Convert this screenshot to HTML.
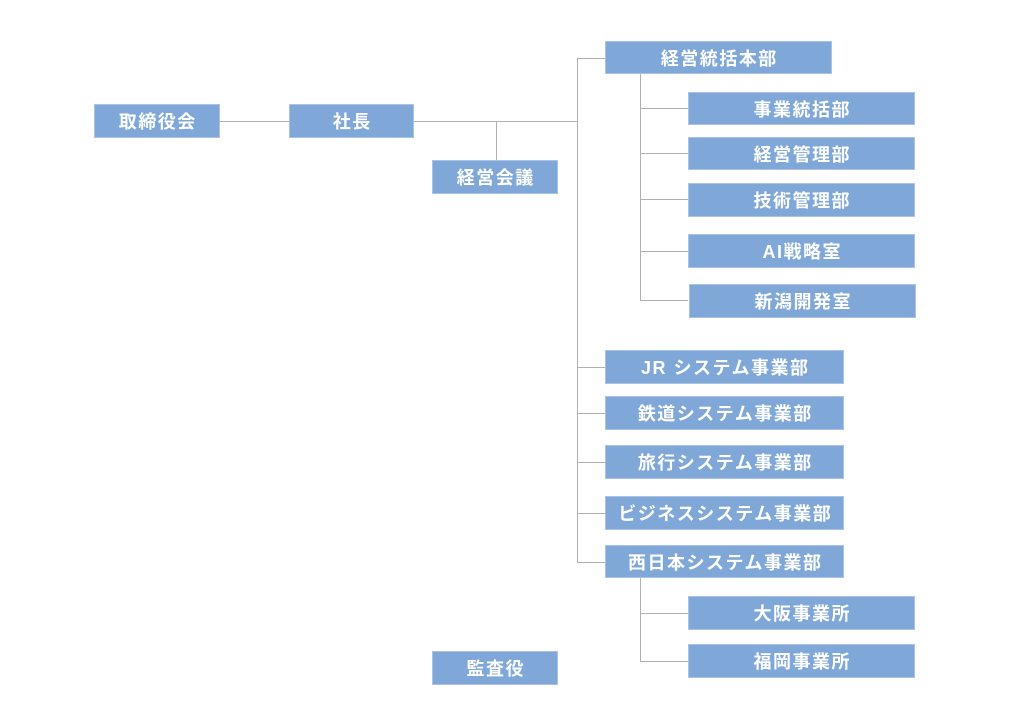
<!DOCTYPE html>
<html><head><meta charset="utf-8"><style>
body{margin:0;width:1024px;height:706px;background:#fff;position:relative;overflow:hidden;font-family:"Liberation Sans","Noto Sans CJK JP",sans-serif}
.b{position:absolute;background:#7fa7d8;color:#fff;font-weight:bold;font-size:18px;letter-spacing:1.5px;display:flex;align-items:center;justify-content:center;border:1px solid #a9c3e6;box-sizing:border-box;padding-left:1.5px}
.h,.v{position:absolute;background:#b0b0b0}
.h{height:1px}.v{width:1px}
</style></head><body>
<div class="h" style="left:220px;top:121px;width:69px"></div>
<div class="h" style="left:414px;top:121px;width:163px"></div>
<div class="v" style="left:496px;top:121px;height:39px"></div>
<div class="v" style="left:577px;top:58px;height:505px"></div>
<div class="h" style="left:577px;top:58px;width:28px"></div>
<div class="v" style="left:640px;top:74px;height:227px"></div>
<div class="h" style="left:640px;top:108px;width:48px"></div>
<div class="h" style="left:640px;top:153px;width:48px"></div>
<div class="h" style="left:640px;top:199px;width:48px"></div>
<div class="h" style="left:640px;top:251px;width:48px"></div>
<div class="h" style="left:640px;top:300px;width:48px"></div>
<div class="h" style="left:577px;top:367px;width:28px"></div>
<div class="h" style="left:577px;top:413px;width:28px"></div>
<div class="h" style="left:577px;top:462px;width:28px"></div>
<div class="h" style="left:577px;top:513px;width:28px"></div>
<div class="h" style="left:577px;top:562px;width:28px"></div>
<div class="v" style="left:640px;top:578px;height:84px"></div>
<div class="h" style="left:640px;top:613px;width:48px"></div>
<div class="h" style="left:640px;top:661px;width:48px"></div>

<div class="b" style="left:94px;top:104px;width:126px;height:34px">取締役会</div>
<div class="b" style="left:289px;top:104px;width:125px;height:34px">社長</div>
<div class="b" style="left:432px;top:160px;width:126px;height:34px">経営会議</div>
<div class="b" style="left:605px;top:41px;width:227px;height:33px">経営統括本部</div>
<div class="b" style="left:688px;top:92px;width:227px;height:33px">事業統括部</div>
<div class="b" style="left:688px;top:137px;width:227px;height:33px">経営管理部</div>
<div class="b" style="left:688px;top:183px;width:227px;height:34px">技術管理部</div>
<div class="b" style="left:688px;top:234px;width:227px;height:34px">AI戦略室</div>
<div class="b" style="left:689px;top:284px;width:227px;height:34px">新潟開発室</div>
<div class="b" style="left:605px;top:350px;width:239px;height:34px">JR システム事業部</div>
<div class="b" style="left:605px;top:396px;width:239px;height:34px">鉄道システム事業部</div>
<div class="b" style="left:605px;top:445px;width:239px;height:34px">旅行システム事業部</div>
<div class="b" style="left:605px;top:496px;width:239px;height:34px">ビジネスシステム事業部</div>
<div class="b" style="left:605px;top:545px;width:239px;height:33px">西日本システム事業部</div>
<div class="b" style="left:688px;top:596px;width:227px;height:34px">大阪事業所</div>
<div class="b" style="left:688px;top:644px;width:227px;height:34px">福岡事業所</div>
<div class="b" style="left:432px;top:651px;width:126px;height:34px">監査役</div>
</body></html>
